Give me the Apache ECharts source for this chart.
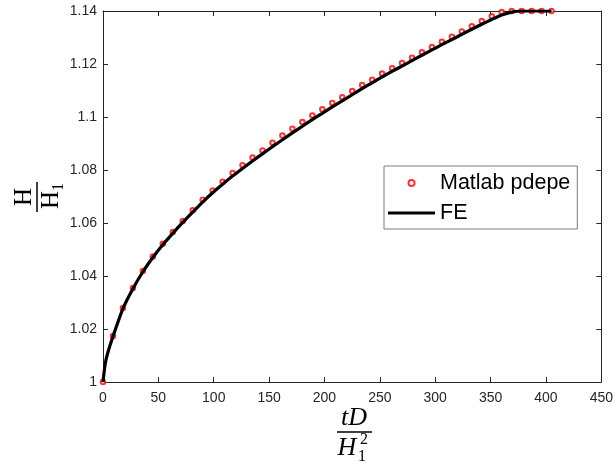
<!DOCTYPE html>
<html>
<head>
<meta charset="utf-8">
<script src="https://cdn.jsdelivr.net/npm/echarts@6/dist/echarts.min.js"></script>
<style>
html,body{margin:0;padding:0;background:#fff;}
#chart{width:616px;height:467px;}
</style>
</head>
<body>
<div id="chart"></div>
<script>
// Matlab pdepe markers (t step 9)
const pdepeT = [0,9,18,27,36,45,54,63,72,81,90,99,108,117,126,135,144,153,162,171,180,189,198,207,216,225,234,243,252,261,270,279,288,297,306,315,324,333,342,351,360,369,378,387,396,405];
const pdepeH = [1.0000,1.0174,1.0279,1.0355,1.0419,1.0474,1.0522,1.0566,1.0608,1.0648,1.0688,1.0723,1.0756,1.0789,1.0818,1.0847,1.0874,1.0903,1.0930,1.0956,1.0981,1.1006,1.1029,1.1053,1.1075,1.1098,1.1121,1.1141,1.1164,1.1184,1.1204,1.1224,1.1244,1.1264,1.1284,1.1303,1.1323,1.1342,1.1362,1.1380,1.1396,1.1400,1.1400,1.1400,1.1400,1.1400];
// FE solution
const feT = [0,2,4.5,9,18,27,36,45,54,63,72,81,90,99,108,117,126,135,144,153,162,171,180,189,198,207,216,225,234,243,252,261,270,279,288,297,306,315,324,333,342,351,360,369,378,387,396,405];
const feH = [1.0000,1.0069,1.0113,1.0172,1.0277,1.0352,1.0416,1.0470,1.0518,1.0561,1.0602,1.0641,1.0679,1.0714,1.0746,1.0777,1.0806,1.0834,1.0861,1.0888,1.0914,1.0940,1.0965,1.0990,1.1014,1.1038,1.1061,1.1084,1.1107,1.1129,1.1151,1.1172,1.1192,1.1213,1.1233,1.1253,1.1273,1.1292,1.1312,1.1331,1.1350,1.1368,1.1385,1.1396,1.1400,1.1400,1.1400,1.1400];
const xTicks = [0,50,100,150,200,250,300,350,400,450];
const yTicks = [1,1.02,1.04,1.06,1.08,1.1,1.12,1.14];
const seriesNames = ['Matlab pdepe','FE'];

const axisColor = '#262626';
const fontFam = '"Liberation Sans", Arial, Helvetica, sans-serif';
const serif = '"Liberation Serif", "DejaVu Serif", serif';

const chart = echarts.init(document.getElementById('chart'), null, {renderer:'canvas'});

function baseAxis(extra){
  return Object.assign({
    axisLine:{show:true, onZero:false, lineStyle:{color:axisColor, width:1}},
    axisTick:{show:true, inside:true, length:5, lineStyle:{color:axisColor, width:1}},
    splitLine:{show:false},
  }, extra);
}

const option = {
  animation:false,
  backgroundColor:'#fff',
  grid:{left:103, right:9, top:11, bottom:85, containLabel:false},
  xAxis:[
    baseAxis({type:'value', min:xTicks[0], max:xTicks[xTicks.length-1], interval:50, position:'bottom',
      axisLabel:{show:true, color:axisColor, fontSize:14, fontFamily:fontFam, margin:9}}),
    baseAxis({type:'value', min:xTicks[0], max:xTicks[xTicks.length-1], interval:50, position:'top',
      axisLabel:{show:false}})
  ],
  yAxis:[
    baseAxis({type:'value', min:yTicks[0], max:yTicks[yTicks.length-1], interval:0.02, position:'left',
      axisLabel:{show:true, color:axisColor, fontSize:14, fontFamily:fontFam, margin:6,
        formatter:v=>String(Number(v.toFixed(2)))}}),
    baseAxis({type:'value', min:yTicks[0], max:yTicks[yTicks.length-1], interval:0.02, position:'right',
      axisLabel:{show:false}})
  ],
  legend:{
    orient:'vertical', left:384, top:166,
    padding:[6,7,5,4], itemGap:8, itemWidth:47, itemHeight:6,
    backgroundColor:'#fff', borderColor:'#7a7a7a', borderWidth:1,
    textStyle:{fontSize:21.5, fontFamily:fontFam, color:'#000'},
    data:[
      {name:seriesNames[0], icon:'emptyCircle', itemStyle:{color:'#ff0000', borderColor:'#ff0000', borderWidth:2.6}},
      {name:seriesNames[1], icon:'path://M0,0L100,0L100,6.5L0,6.5Z', itemStyle:{color:'#000'}}
    ]
  },
  series:[
    {
      name:seriesNames[0], type:'scatter', xAxisIndex:0, yAxisIndex:0,
      data:pdepeT.map((t,i)=>[t,pdepeH[i]]),
      symbol:'emptyCircle', symbolSize:4.5,
      itemStyle:{color:'#ff0000', borderColor:'#ff0000', borderWidth:3},
      z:2
    },
    {
      name:seriesNames[1], type:'line', xAxisIndex:0, yAxisIndex:0,
      data:feT.map((t,i)=>[t,feH[i]]),
      showSymbol:false, symbol:'none', smooth:0.2,
      lineStyle:{color:'#000', width:3.2},
      itemStyle:{color:'#000'},
      z:3
    }
  ],
  graphic:[
    // y-axis label: H / H_1 (rotated)
    {type:'text', x:24, y:197, rotation:Math.PI/2,
      style:{text:'H', font:'25px '+serif, fill:'#000', textAlign:'center', textVerticalAlign:'middle'}},
    {type:'line', shape:{x1:37, y1:182, x2:37, y2:212}, style:{stroke:'#000', lineWidth:1.5}},
    {type:'text', x:51, y:200, rotation:Math.PI/2,
      style:{text:'H', font:'25px '+serif, fill:'#000', textAlign:'center', textVerticalAlign:'middle'}},
    {type:'text', x:59, y:187, rotation:Math.PI/2,
      style:{text:'1', font:'16px '+serif, fill:'#000', textAlign:'center', textVerticalAlign:'middle'}},
    // x-axis label: tD / H_1^2
    {type:'text', x:354, y:418,
      style:{text:'tD', font:'italic 26px '+serif, fill:'#000', textAlign:'center', textVerticalAlign:'middle'}},
    {type:'line', shape:{x1:337, y1:432, x2:372, y2:432}, style:{stroke:'#000', lineWidth:1.5}},
    {type:'text', x:347, y:448,
      style:{text:'H', font:'italic 26px '+serif, fill:'#000', textAlign:'center', textVerticalAlign:'middle'}},
    {type:'text', x:364, y:440,
      style:{text:'2', font:'16px '+serif, fill:'#000', textAlign:'center', textVerticalAlign:'middle'}},
    {type:'text', x:362, y:457,
      style:{text:'1', font:'16px '+serif, fill:'#000', textAlign:'center', textVerticalAlign:'middle'}}
  ]
};
chart.setOption(option);
</script>
</body>
</html>
